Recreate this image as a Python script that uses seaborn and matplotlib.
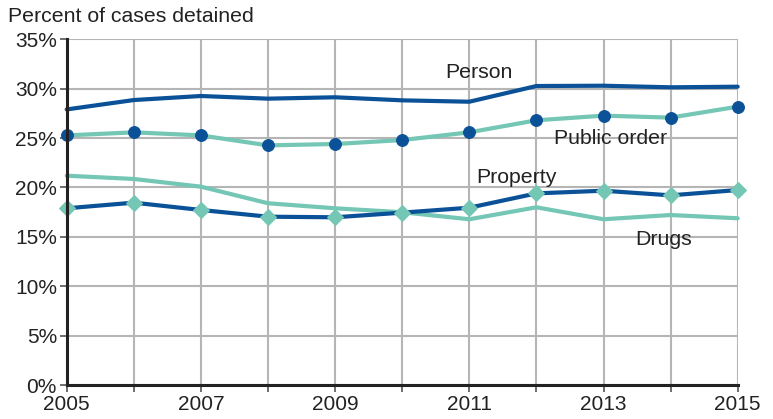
import matplotlib
matplotlib.use("Agg")
import matplotlib.pyplot as plt
import seaborn as sns
import pandas as pd
from matplotlib.ticker import FixedLocator, FuncFormatter

years = list(range(2005, 2016))
person = [27.9, 28.85, 29.26, 28.99, 29.13, 28.82, 28.68, 30.27, 30.3, 30.14, 30.2]
public_order = [25.27, 25.58, 25.27, 24.26, 24.4, 24.8, 25.58, 26.8, 27.27, 27.07, 28.18]
property_ = [17.89, 18.46, 17.72, 17.04, 16.98, 17.45, 17.95, 19.4, 19.67, 19.2, 19.74]
drugs = [21.19, 20.86, 20.08, 18.4, 17.89, 17.49, 16.78, 17.99, 16.78, 17.21, 16.88]
xtick_labels = ["2005", "", "2007", "", "2009", "", "2011", "", "2013", "", "2015"]
ytick_values = [0, 5, 10, 15, 20, 25, 30, 35]

DARK = "#0a5197"
TEAL = "#74c6b5"

sns.set_theme(style="white")
plt.rcParams['font.family'] = ['Liberation Sans', 'DejaVu Sans']

df = pd.DataFrame({"year": years, "Person": person, "Public order": public_order,
                   "Property": property_, "Drugs": drugs})

fig = plt.figure(figsize=(7.73, 4.19), dpi=100)
ax = fig.add_axes([66.7 / 773, (419 - 385) / 419, (737.7 - 66.7) / 773, (385 - 39.3) / 419])

sns.lineplot(data=df, x="year", y="Drugs", ax=ax, color=TEAL, linewidth=3.0, zorder=3)
sns.lineplot(data=df, x="year", y="Person", ax=ax, color=DARK, linewidth=3.0, zorder=3)
sns.lineplot(data=df, x="year", y="Public order", ax=ax, color=TEAL, linewidth=3.0,
             marker="o", markersize=8.5, markerfacecolor=DARK, markeredgecolor=DARK, zorder=4)
sns.lineplot(data=df, x="year", y="Property", ax=ax, color=DARK, linewidth=3.0,
             marker="D", markersize=8, markerfacecolor=TEAL, markeredgecolor=TEAL, zorder=4)

ax.set_xlim(2005, 2015)
ax.set_ylim(0, 35)
ax.xaxis.set_major_locator(FixedLocator(years))
ax.set_xticklabels(xtick_labels)
ax.yaxis.set_major_locator(FixedLocator(ytick_values))
ax.yaxis.set_major_formatter(FuncFormatter(lambda v, p: f"{int(v)}%"))
ax.grid(True, color="#b5b5b5", linewidth=1.5, zorder=0)
ax.set_axisbelow(True)
for s in ["top", "right"]:
    ax.spines[s].set_visible(False)
for s in ["left", "bottom"]:
    ax.spines[s].set_color("#222222")
    ax.spines[s].set_linewidth(2.2)
    ax.spines[s].set_zorder(5)
ax.tick_params(axis="both", which="both", length=5, width=1.2, color="#555555",
               labelsize=15, labelcolor="#222222", pad=2, bottom=True, left=True)
ax.set_xlabel("")
ax.set_ylabel("")

for line in ax.lines:
    line.set_clip_on(False)

fig.text(8 / 773, 1 - 17 / 419, "Percent of cases detained", fontsize=15.3,
         color="#222222", va="center", ha="left")
tk = dict(fontsize=15.3, color="#222222", ha="center", va="center")
ax.text(2011.15, 31.6, "Person", **tk)
ax.text(2013.1, 25.0, "Public order", **tk)
ax.text(2011.7, 21.0, "Property", **tk)
ax.text(2013.9, 14.7, "Drugs", **tk)

fig.savefig("out.png", dpi=100)
